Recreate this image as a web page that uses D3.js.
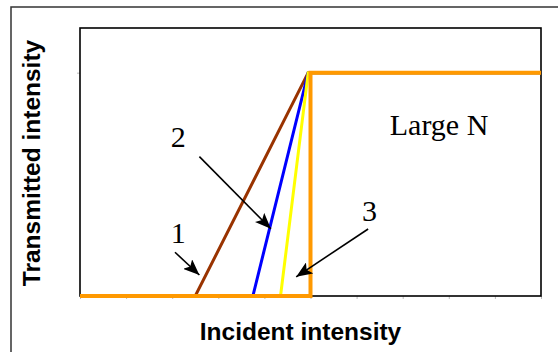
<!DOCTYPE html>
<html>
<head>
<meta charset="utf-8">
<script src="https://cdn.jsdelivr.net/npm/d3@7"></script>
<style>
  html, body { margin: 0; padding: 0; background: #fff; }
  svg { display: block; }
</style>
</head>
<body>
<svg id="chart" width="558" height="352"></svg>
<script>
// Transmitted vs incident intensity for increasing N (curves 1–3, then the large-N step)
const xTicks = [0, 1, 2, 3, 4, 5, 6, 7, 8, 9, 10];
const yTicks = [1];

const curve1 = [[0, 0], [2.5, 0], [4.95, 1], [10, 1]];
const curve2 = [[0, 0], [3.75, 0], [4.95, 1], [10, 1]];
const curve3 = [[0, 0], [4.35, 0], [4.95, 1], [10, 1]];
const curveLargeN = [[0, 0], [5, 0], [5, 1], [10, 1]];

const seriesNames = ["1", "2", "3", "Large N"];
const seriesColors = ["#993300", "#0000ff", "#ffff00", "#ff9900"];

// Callout labels and arrows (data units): label anchor, arrow start, arrow tip
const labelNames = ["1", "2", "3"];
const labelPos = [[2.13, 0.236], [2.13, 0.666], [6.28, 0.337]];
const arrowFrom = [[2.06, 0.196], [2.59, 0.624], [6.25, 0.30]];
const arrowTo = [[2.59, 0.094], [4.14, 0.301], [4.69, 0.086]];
const largeNPos = [6.72, 0.721];

const svg = d3.select("#chart");
const margin = { left: 80, right: 17, top: 28, bottom: 56 };
const W = 558, H = 352;

const x = d3.scaleLinear().domain([0, 10]).range([margin.left, W - margin.right]);
const y = d3.scaleLinear().domain([0, 1.2]).range([H - margin.bottom, margin.top]);

// outer border
svg.append("rect")
  .attr("x", 11).attr("y", 7).attr("width", 620).attr("height", 420)
  .attr("fill", "none").attr("stroke", "#333").attr("stroke-width", 1.5);

// arrowhead marker
svg.append("defs").append("marker")
  .attr("id", "head")
  .attr("viewBox", "0 0 16 13")
  .attr("refX", 16).attr("refY", 6.5)
  .attr("markerWidth", 16).attr("markerHeight", 13)
  .attr("markerUnits", "userSpaceOnUse")
  .attr("orient", "auto")
  .append("path")
  .attr("d", "M0,0 L16,6.5 L0,13 L3.5,6.5 Z")
  .attr("fill", "#000");

// axes (ticks only, light grey)
const xAxis = svg.append("g")
  .attr("transform", `translate(0,${y(0)})`)
  .call(d3.axisBottom(x).tickValues(xTicks).tickSize(3).tickFormat(""));
const yAxis = svg.append("g")
  .attr("transform", `translate(${x(0)},0)`)
  .call(d3.axisLeft(y).tickValues(yTicks).tickSize(3).tickFormat(""));
[xAxis, yAxis].forEach(a => {
  a.select(".domain").remove();
  a.selectAll(".tick line").attr("stroke", "#bbb").attr("stroke-width", 1);
});

// plot frame
svg.append("rect")
  .attr("x", x(0)).attr("y", y(1.2))
  .attr("width", x(10) - x(0)).attr("height", y(0) - y(1.2))
  .attr("fill", "none").attr("stroke", "#000").attr("stroke-width", 1.6);

// curves
const line = d3.line().x(d => x(d[0])).y(d => y(d[1]));
const allCurves = [curve1, curve2, curve3, curveLargeN];
const widths = [3, 3, 3, 4];
svg.append("g").selectAll("path")
  .data(allCurves)
  .join("path")
  .attr("d", line)
  .attr("fill", "none")
  .attr("stroke", (d, i) => seriesColors[i])
  .attr("stroke-width", (d, i) => widths[i])
  .attr("stroke-linejoin", "miter");

// callout arrows
svg.append("g").selectAll("line")
  .data(arrowFrom)
  .join("line")
  .attr("x1", d => x(d[0])).attr("y1", d => y(d[1]))
  .attr("x2", (d, i) => x(arrowTo[i][0])).attr("y2", (d, i) => y(arrowTo[i][1]))
  .attr("stroke", "#000").attr("stroke-width", 1.6)
  .attr("marker-end", "url(#head)");

// callout numbers
svg.append("g").selectAll("text")
  .data(labelNames)
  .join("text")
  .attr("x", (d, i) => x(labelPos[i][0])).attr("y", (d, i) => y(labelPos[i][1]))
  .attr("text-anchor", "middle")
  .attr("font-family", "'Liberation Serif', 'Times New Roman', serif")
  .attr("font-size", 30)
  .text(d => d);

svg.append("text")
  .attr("x", x(largeNPos[0])).attr("y", y(largeNPos[1]))
  .attr("font-family", "'Liberation Serif', 'Times New Roman', serif")
  .attr("font-size", 30)
  .text(seriesNames[3]);

// axis titles
svg.append("text")
  .attr("x", (x(0) + x(10)) / 2 - 10).attr("y", 339.5)
  .attr("text-anchor", "middle")
  .attr("font-family", "'Liberation Sans', Arial, sans-serif")
  .attr("font-weight", "bold").attr("font-size", 24.5)
  .text("Incident intensity");

svg.append("text")
  .attr("transform", "translate(39.5,163) rotate(-90)")
  .attr("text-anchor", "middle")
  .attr("font-family", "'Liberation Sans', Arial, sans-serif")
  .attr("font-weight", "bold").attr("font-size", 24.5)
  .text("Transmitted intensity");
</script>
</body>
</html>
